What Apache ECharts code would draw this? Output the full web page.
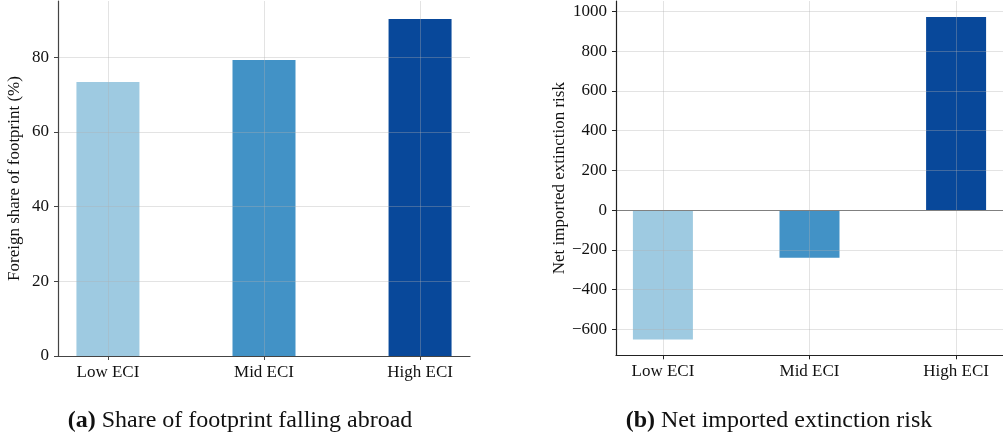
<!DOCTYPE html>
<html>
<head>
<meta charset="utf-8">
<script src="https://cdn.jsdelivr.net/npm/echarts@6/dist/echarts.min.js"></script>
<style>
html,body{margin:0;padding:0;background:#fff;}
#chart{width:1003px;height:441px;}
</style>
</head>
<body>
<div id="chart"></div>
<script>
// ---- data ----
var categories = ['Low ECI', 'Mid ECI', 'High ECI'];
var shareAbroad = [73.3, 79.2, 90.2];        // Foreign share of footprint (%)
var netRisk = [-652, -240, 971];             // Net imported extinction risk
var barColors = ['#9ecae1', '#4292c6', '#08489a'];
var ticksA = [0, 20, 40, 60, 80];
var ticksB = [-600, -400, -200, 0, 200, 400, 600, 800, 1000];
var catIdx = [0, 1, 2];

var FONT = 'Liberation Serif';
var gridColor = 'rgba(176,176,176,0.35)';

function fmtNum(v) { return v < 0 ? '\u2212' + Math.abs(v) : String(v); }

function xAxisCfg(gridIndex, axisColor) {
  return {
    type: 'value', gridIndex: gridIndex, min: -0.32, max: 2.32, z: 5,
    axisLine: { show: true, onZero: false, lineStyle: { color: axisColor, width: 1.2 } },
    axisTick: { show: true, length: 4, customValues: catIdx, lineStyle: { color: axisColor } },
    axisLabel: { customValues: catIdx, margin: 8, color: '#111', fontFamily: FONT, fontSize: 17,
      formatter: function (v) { return categories[Math.round(v)]; } },
    splitLine: { show: true, lineStyle: { color: gridColor, width: 1 } }
  };
}
function yAxisCfg(gridIndex, min, max, ticks, name, gap, axisColor) {
  return {
    type: 'value', gridIndex: gridIndex, min: min, max: max, z: 5,
    name: name, nameLocation: 'middle', nameGap: gap, nameRotate: 90,
    nameTextStyle: { fontFamily: FONT, fontSize: 17, color: '#111' },
    axisLine: { show: true, onZero: false, lineStyle: { color: axisColor, width: 1.2 } },
    axisTick: { show: true, length: 4, customValues: ticks, lineStyle: { color: axisColor } },
    axisLabel: { customValues: ticks, margin: 9, color: '#111', fontFamily: FONT, fontSize: 17, formatter: fmtNum },
    splitLine: { show: true, lineStyle: { color: gridColor, width: 1 } }
  };
}
function barData(vals) {
  return vals.map(function (v, i) {
    return { value: [i, v], itemStyle: { color: barColors[i] } };
  });
}

var captionStyle = { fontFamily: FONT, fontSize: 24, fontWeight: 'normal', color: '#111',
  rich: { b: { fontFamily: FONT, fontSize: 24, fontWeight: 'bold', color: '#111' } } };

var chart = echarts.init(document.getElementById('chart'));
chart.setOption({
  animation: false,
  backgroundColor: '#fff',
  title: [
    { text: '{b|(a)} Share of footprint falling abroad', left: 235, top: 404, textAlign: 'center', textStyle: captionStyle },
    { text: '{b|(b)} Net imported extinction risk', left: 774, top: 404, textAlign: 'center', textStyle: captionStyle }
  ],
  grid: [
    { left: 58, top: 1, width: 412, height: 355 },
    { left: 616, top: 1, width: 391, height: 354.3 }
  ],
  xAxis: [xAxisCfg(0, '#444'), xAxisCfg(1, '#222')],
  yAxis: [
    yAxisCfg(0, 0, 95, ticksA, 'Foreign share of footprint (%)', 35, '#444'),
    yAxisCfg(1, -731, 1052, ticksB, 'Net imported extinction risk', 39, '#222')
  ],
  series: [
    { type: 'bar', xAxisIndex: 0, yAxisIndex: 0, barWidth: 63, data: barData(shareAbroad) },
    { type: 'bar', xAxisIndex: 1, yAxisIndex: 1, barWidth: 60, data: barData(netRisk),
      markLine: { silent: true, symbol: 'none', label: { show: false },
        lineStyle: { color: '#808080', width: 1.2, type: 'solid' },
        data: [{ yAxis: 0 }] } }
  ]
});
</script>
</body>
</html>
